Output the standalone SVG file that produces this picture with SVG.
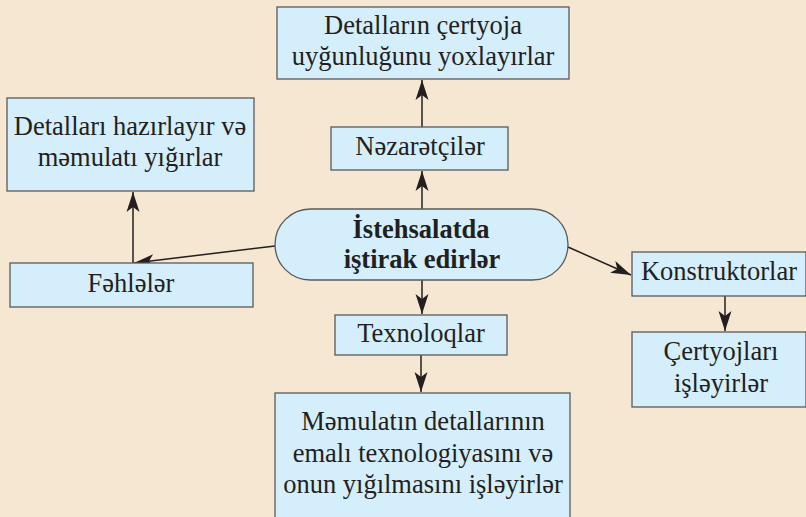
<svg xmlns="http://www.w3.org/2000/svg" width="806" height="517" viewBox="0 0 806 517">
<defs>
<style>
.box{fill:#D5EEFB;stroke:#5A5A5A;stroke-width:1.3}
.c{stroke:#231F20;stroke-width:1.5;fill:none}
text{fill:#231F20;text-anchor:middle;font-family:'Liberation Serif','Times New Roman',serif;font-size:26.5px}
.b{font-weight:bold}
</style>
<marker id="ah" markerUnits="userSpaceOnUse" markerWidth="24" markerHeight="18" viewBox="-22 -9 24 18" refX="0" refY="0" orient="auto">
<path d="M0,0 L-20,-6.5 L-15,0 L-20,6.5 Z" fill="#231F20"/>
</marker>
</defs>
<rect width="806" height="517" fill="#F6E7D2"/>
<g id="connectors">
<line class="c" marker-end="url(#ah)" x1="422" y1="127" x2="422" y2="80"/>
<line class="c" marker-end="url(#ah)" x1="422" y1="209" x2="422" y2="171"/>
<line class="c" marker-end="url(#ah)" x1="275" y1="246" x2="134" y2="263"/>
<line class="c" marker-end="url(#ah)" x1="133" y1="263" x2="133" y2="192"/>
<line class="c" marker-end="url(#ah)" x1="422" y1="280" x2="422" y2="314"/>
<line class="c" marker-end="url(#ah)" x1="421" y1="355" x2="421" y2="392"/>
<line class="c" marker-end="url(#ah)" x1="568" y1="247" x2="631" y2="275"/>
<line class="c" marker-end="url(#ah)" x1="725" y1="296" x2="725" y2="331"/>
</g>
<g id="n-top">
<rect class="box" x="277" y="7" width="292" height="72"/>
<text x="423" y="34">Detalların çertyoja</text>
<text x="423" y="65">uyğunluğunu yoxlayırlar</text>
</g>
<g id="n-left">
<rect class="box" x="7" y="98" width="247" height="93"/>
<text x="130" y="135">Detalları hazırlayır və</text>
<text x="130" y="166">məmulatı yığırlar</text>
</g>
<g id="n-nezaretciler">
<rect class="box" x="331" y="127" width="177" height="43"/>
<text x="420" y="155">Nəzarətçilər</text>
</g>
<g id="n-center">
<rect class="box" x="275" y="209" width="293" height="71" rx="35.5" ry="35.5"/>
<text class="b" x="421" y="238">İstehsalatda</text>
<text class="b" x="422" y="268">iştirak edirlər</text>
</g>
<g id="n-fehleler">
<rect class="box" x="10" y="263" width="243" height="44"/>
<text x="131" y="292">Fəhlələr</text>
</g>
<g id="n-texnoloqlar">
<rect class="box" x="335" y="315" width="172" height="40"/>
<text x="421" y="342">Texnoloqlar</text>
</g>
<g id="n-bottom">
<rect class="box" x="275" y="393" width="295" height="140"/>
<text x="423" y="430">Məmulatın detallarının</text>
<text x="423" y="462">emalı texnologiyasını və</text>
<text x="423" y="493">onun yığılmasını işləyirlər</text>
</g>
<g id="n-konstruktorlar">
<rect class="box" x="632" y="252" width="174" height="44"/>
<text x="719" y="280">Konstruktorlar</text>
</g>
<g id="n-certyojlari">
<rect class="box" x="632" y="332" width="174" height="75"/>
<text x="721" y="360">Çertyojları</text>
<text x="721" y="392">işləyirlər</text>
</g>
</svg>
